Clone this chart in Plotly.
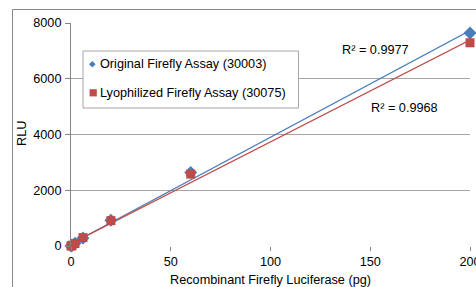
import numpy as np
import plotly.graph_objects as go

amount_pg = [0, 0.2, 0.6, 2, 6, 20, 60, 200]
original_rlu = [0, 10, 30, 95, 290, 920, 2640, 7640]
lyophilized_rlu = [0, 9, 28, 90, 300, 910, 2580, 7290]
series_names = ["Original Firefly Assay (30003)", "Lyophilized Firefly Assay (30075)"]
r2_labels = ["R² = 0.9977", "R² = 0.9968"]
x_ticks = [0, 50, 100, 150, 200]
y_ticks = [0, 2000, 4000, 6000, 8000]

blue = "#4a7ebb"
red = "#be4b48"
font = "Liberation Sans, Arial, sans-serif"
fs = 12.7

W, H = 476, 287
l, r, t, b = 71, 6, 23, 41
pw, ph = W - l - r, H - t - b


def px(x):
    return (x - l) / pw


def py(y):
    return (H - b - y) / ph


fig = go.Figure()

for ys, col in [(original_rlu, blue), (lyophilized_rlu, red)]:
    m, c = np.polyfit(amount_pg, ys, 1)
    xs = [0, 200]
    fig.add_trace(go.Scatter(x=xs, y=[m * v + c for v in xs], mode="lines",
                             line=dict(color=col, width=1.3), showlegend=False,
                             hoverinfo="skip", cliponaxis=False))

fig.add_trace(go.Scatter(x=amount_pg, y=original_rlu, mode="markers", name=series_names[0],
                         marker=dict(symbol="diamond", size=10, color=blue),
                         cliponaxis=False, showlegend=False))
fig.add_trace(go.Scatter(x=amount_pg, y=lyophilized_rlu, mode="markers", name=series_names[1],
                         marker=dict(symbol="square", size=9, color=red),
                         cliponaxis=False, showlegend=False))

fig.add_annotation(x=152.4, y=7030, text=r2_labels[0], showarrow=False,
                   font=dict(family=font, size=fs, color="#000"), xref="x", yref="y")
fig.add_annotation(x=167, y=4950, text=r2_labels[1], showarrow=False,
                   font=dict(family=font, size=fs, color="#000"), xref="x", yref="y")

# y axis title
fig.add_annotation(x=px(21.5), y=py(133.5), xref="paper", yref="paper", text="RLU",
                   textangle=-90, showarrow=False, xanchor="center", yanchor="middle",
                   font=dict(family=font, size=fs, color="#000"))

# outer chart border
fig.add_shape(type="rect", xref="paper", yref="paper",
              x0=px(12.5), x1=px(W + 20), y0=py(H + 20), y1=py(9.5),
              line=dict(color="#868686", width=1), fillcolor="rgba(0,0,0,0)", layer="below")

# legend box
fig.add_shape(type="rect", xref="paper", yref="paper",
              x0=px(83), x1=px(298.5), y0=py(108), y1=py(51),
              line=dict(color="#a6a6a6", width=1), fillcolor="white", layer="above")
# legend keys
dx, dy = 3.3 / pw, 3.3 / ph
cx, cy = px(92.3), py(64.3)
fig.add_shape(type="path", xref="paper", yref="paper",
              path=f"M {cx - dx} {cy} L {cx} {cy + dy} L {cx + dx} {cy} L {cx} {cy - dy} Z",
              line=dict(width=0), fillcolor=blue, layer="above")
sx, sy = 3.6 / pw, 3.6 / ph
cx2, cy2 = px(93.2), py(92.8)
fig.add_shape(type="rect", xref="paper", yref="paper",
              x0=cx2 - sx, x1=cx2 + sx, y0=cy2 - sy, y1=cy2 + sy,
              line=dict(width=0), fillcolor=red, layer="above")
for name, yy in zip(series_names, [64.3, 92.5]):
    fig.add_annotation(x=px(98), y=py(yy), xref="paper", yref="paper", text=name,
                       showarrow=False, xanchor="left", yanchor="middle",
                       font=dict(family=font, size=fs, color="#000"))

fig.update_layout(
    width=W, height=H,
    margin=dict(l=l, r=r, t=t, b=b),
    paper_bgcolor="white", plot_bgcolor="white",
    font=dict(family=font, size=fs, color="#000"),
    showlegend=False,
    xaxis=dict(range=[0, 200], tickvals=x_ticks, showgrid=False, zeroline=False,
               showline=False, ticks="outside", ticklen=4, tickcolor="#868686",
               ticklabeloverflow="allow",
               title=dict(text="Recombinant Firefly Luciferase (pg)", standoff=7,
                          font=dict(size=fs)),
               fixedrange=True, automargin=False),
    yaxis=dict(range=[0, 8000], tickvals=y_ticks, showgrid=True, gridcolor="#a6a6a6",
               gridwidth=1, zeroline=False, showline=True, linecolor="#868686",
               ticks="outside", ticklen=5, tickcolor="#868686", ticklabelstandoff=1,
               fixedrange=True, automargin=False),
)

fig.write_html("out.html", config={"displayModeBar": False},
               post_script="document.body.style.margin='0';document.body.style.overflow='hidden';")
